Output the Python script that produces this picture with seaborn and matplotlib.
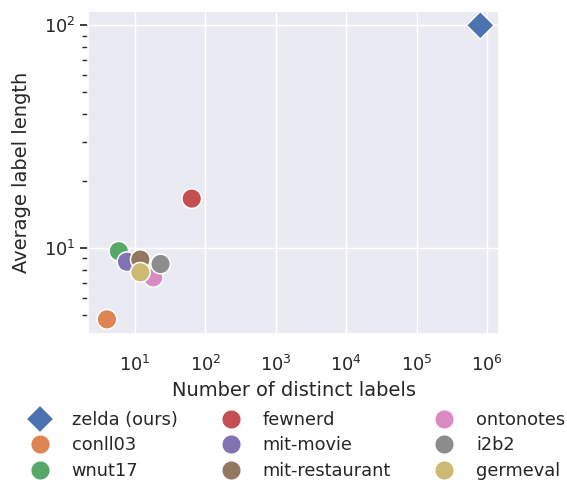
import matplotlib
matplotlib.use('Agg')
import pandas as pd
import seaborn as sns
from matplotlib import pyplot as plt

datasets = ['zelda (ours)', 'conll03', 'wnut17', 'fewnerd', 'mit-movie',
            'mit-restaurant', 'ontonotes', 'i2b2', 'germeval']
num_labels = [800000, 4, 5.9, 64, 7.7, 11.9, 18.2, 23.1, 11.9]
avg_label_length = [100, 4.8, 9.7, 16.7, 8.7, 8.9, 7.4, 8.5, 7.8]


def plot_labels():
    sns.set_theme(font_scale=1.16)
    df = pd.DataFrame({'dataset': datasets,
                       'Number of distinct labels': num_labels,
                       'Average label length': avg_label_length})
    markers = {d: ('D' if d == 'zelda (ours)' else 'o') for d in datasets}

    fig, ax = plt.subplots(figsize=(5.67, 4.82), dpi=100)
    sns.scatterplot(data=df, x='Number of distinct labels', y='Average label length',
                    hue='dataset', style='dataset', markers=markers, s=200, ax=ax)
    ax.set_xscale('log')
    ax.set_yscale('log')
    ax.tick_params(axis='y', which='both', left=True, color='.15')
    ax.tick_params(axis='x', which='both', pad=9)
    ax.yaxis.labelpad = 9
    ax.legend(loc='upper center', bbox_to_anchor=(0.5, -0.188), ncol=3,
              frameon=False, labelspacing=0.43)

    fig.subplots_adjust(left=0.1557, right=0.880, top=0.978, bottom=0.307)
    plt.savefig('out.png', dpi=100)


if __name__ == '__main__':
    plot_labels()
